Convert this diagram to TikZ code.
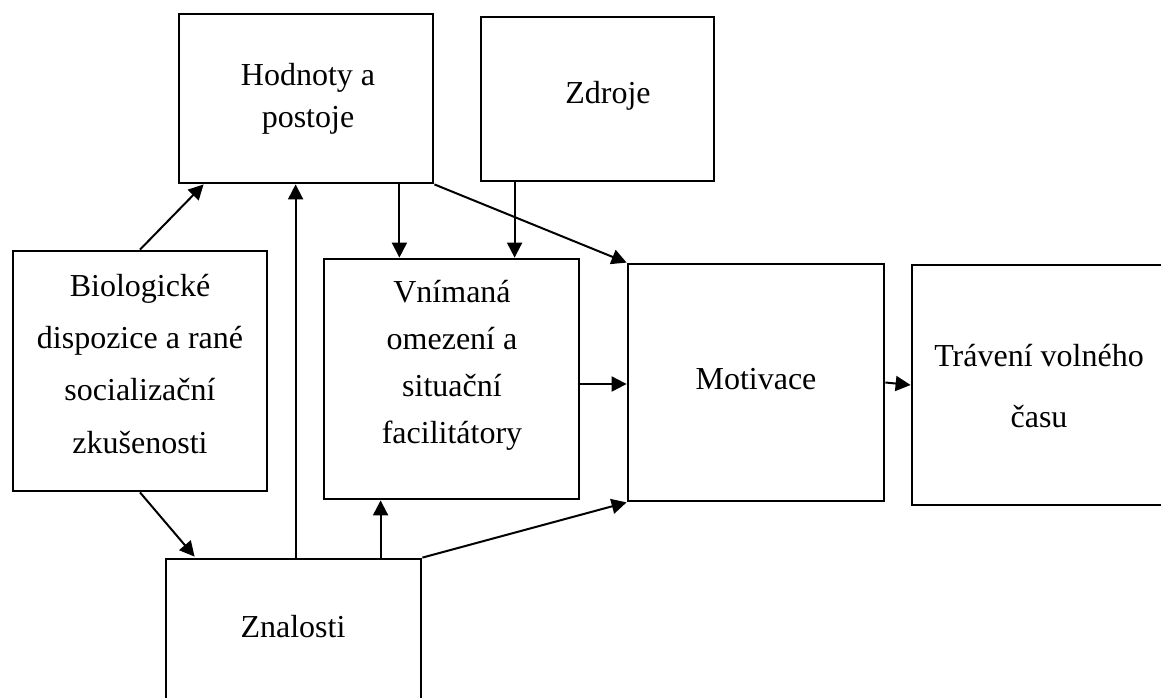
\documentclass[tikz,border=0pt]{standalone}
\usepackage{fontspec}
\setmainfont{Liberation Serif}
\usetikzlibrary{arrows.meta}
\tikzset{
  box/.style={draw=black, line width=2.8pt, inner sep=0pt, fill=none},
  lbl/.style={anchor=base, inner sep=0pt, font=\fontsize{32}{36}\selectfont},
  arr/.style={line width=2pt, -{Triangle[length=15pt,width=15pt]}}
}
\begin{document}
\begin{tikzpicture}[x=1pt,y=-1pt]
\clip (0,0) rectangle (1161,698);
\fill[white] (0,0) rectangle (1161,698);
% boxes
\node[box, minimum width=254pt, minimum height=169pt] (hod) at (306,98.5) {};
\node[box, minimum width=233pt, minimum height=164pt] (zdr) at (597.5,99) {};
\node[box, minimum width=254pt, minimum height=240pt] (bio) at (140,371) {};
\node[box, minimum width=255pt, minimum height=240pt] (vni) at (451.5,379) {};
\node[box, minimum width=256pt, minimum height=237pt] (mot) at (756,382.5) {};
\node[box, minimum width=258pt, minimum height=240pt] (tra) at (1041,385) {};
\node[box, minimum width=255pt, minimum height=161pt] (zna) at (293.5,639.5) {};
% labels
\node[lbl] (hodA) at (308,86) {Hodnoty a};
\node[lbl] (hodB) at (308,128) {postoje};
\node[lbl] (zdrA) at (608,104) {Zdroje};
\node[lbl] (bioA) at (140,296) {Biologické};
\node[lbl] (bioB) at (140,348) {dispozice a rané};
\node[lbl] (bioC) at (140,400) {socializační};
\node[lbl] (bioD) at (140,453) {zkušenosti};
\node[lbl] (vniA) at (452,302) {Vnímaná};
\node[lbl] (vniB) at (452,349) {omezení a};
\node[lbl] (vniC) at (452,396) {situační};
\node[lbl] (vniD) at (452,443) {facilitátory};
\node[lbl] (motA) at (756,389) {Motivace};
\node[lbl] (traA) at (1039,366) {Trávení volného};
\node[lbl] (traB) at (1039,427) {času};
\node[lbl] (znaA) at (293,637) {Znalosti};
% connectors
\draw[arr] (bio.north) -- ([xshift=26pt]hod.south west);
\draw[arr] (bio.south) -- ([xshift=30pt,yshift=1pt]zna.north west);
\draw[arr] ([xshift=131pt]zna.north west) -- ([xshift=131pt]zna.north west |- hod.south);
\draw[arr] ([xshift=-35pt]hod.south east) -- ([xshift=-35pt]hod.south east |- vni.north);
\draw[arr] ([xshift=35pt]zdr.south west) -- ([xshift=35pt]zdr.south west |- vni.north);
\draw[arr] (hod.south east) -- (mot.north west);
\draw[arr] ([yshift=-5pt]vni.east) -- ([yshift=-5pt]vni.east -| mot.west);
\draw[arr] (mot.east) -- (tra.west);
\draw[arr] ([xshift=216pt]zna.north west) -- ([xshift=216pt]zna.north west |- vni.south);
\draw[arr] (zna.north east) -- (mot.south west);
\end{tikzpicture}
\end{document}
